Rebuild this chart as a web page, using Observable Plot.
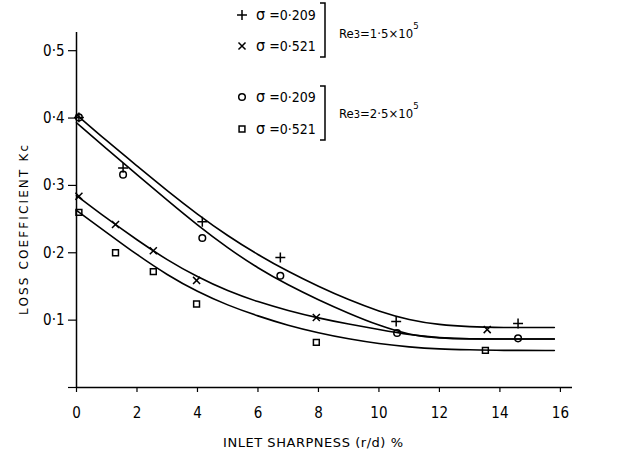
<!DOCTYPE html>
<html>
<head>
<meta charset="utf-8">
<script src="https://cdn.jsdelivr.net/npm/d3@7"></script>
<script src="https://cdn.jsdelivr.net/npm/@observablehq/plot@0.6"></script>
<style>
  html, body { margin: 0; padding: 0; background: #fff; }
  #chart svg { display: block; }
</style>
</head>
<body>
<div id="chart"></div>
<script>
// ---- Data ----
const xTicks = [0, 2, 4, 6, 8, 10, 12, 14, 16];
const yTicks = [0, 0.1, 0.2, 0.3, 0.4, 0.5];
const yTickLabels = ["", "0·1", "0·2", "0·3", "0·4", "0·5"];

const xLabel = "INLET SHARPNESS (r/d) %";
const yLabel = "LOSS COEFFICIENT Kc";

// Measured points
const plusX  = [0.08, 1.54, 4.16, 6.74, 10.57, 14.6];
const plusY  = [0.401, 0.326, 0.246, 0.193, 0.098, 0.095];
const timesX = [0.08, 1.29, 2.54, 3.97, 7.93, 13.58];
const timesY = [0.284, 0.242, 0.203, 0.159, 0.104, 0.086];
const circX  = [0.08, 1.54, 4.16, 6.74, 10.6, 14.6];
const circY  = [0.401, 0.316, 0.222, 0.166, 0.081, 0.073];
const sqX    = [0.08, 1.29, 2.54, 3.97, 7.93, 13.52];
const sqY    = [0.26, 0.20, 0.172, 0.124, 0.067, 0.055];

// Fitted curves
const curveX = [0, 1, 2, 3, 4, 5, 6, 7, 8, 9, 10, 11, 12, 13, 14, 15.8];
const curvePlusY  = [0.405, 0.366, 0.329, 0.292, 0.257, 0.225, 0.197, 0.172, 0.150, 0.130, 0.113, 0.100, 0.093, 0.090, 0.089, 0.089];
const curveCircY  = [0.393, 0.354, 0.316, 0.278, 0.241, 0.207, 0.177, 0.152, 0.130, 0.110, 0.092, 0.078, 0.073, 0.072, 0.072, 0.072];
const curveTimesY = [0.285, 0.251, 0.219, 0.189, 0.164, 0.143, 0.127, 0.114, 0.103, 0.094, 0.086, 0.078, 0.074, 0.072, 0.072, 0.072];
const curveSqY    = [0.263, 0.230, 0.197, 0.167, 0.142, 0.122, 0.106, 0.092, 0.081, 0.072, 0.065, 0.060, 0.057, 0.056, 0.055, 0.055];

// Legend text
const sigmaValues = ["=0·209", "=0·521", "=0·209", "=0·521"];
const legendSymbols = ["plus", "times", "circle", "square"];
const reValues = ["1·5", "2·5"];

// ---- Build tables ----
const points = [
  ...plusX.map((x, i) => ({x, y: plusY[i], s: "plus"})),
  ...timesX.map((x, i) => ({x, y: timesY[i], s: "times"})),
  ...circX.map((x, i) => ({x, y: circY[i], s: "circle"})),
  ...sqX.map((x, i) => ({x, y: sqY[i], s: "square"}))
];
const curves = [
  ...curveX.map((x, i) => ({x, y: curvePlusY[i], c: "plus"})),
  ...curveX.map((x, i) => ({x, y: curveCircY[i], c: "circle"})),
  ...curveX.map((x, i) => ({x, y: curveTimesY[i], c: "times"})),
  ...curveX.map((x, i) => ({x, y: curveSqY[i], c: "square"}))
];

const FONT = '"DejaVu Sans Condensed", "DejaVu Sans", sans-serif';
const TITLEFONT = '"DejaVu Sans", sans-serif';

const chart = Plot.plot({
  width: 630,
  height: 451,
  marginLeft: 76,
  marginRight: 58,
  marginTop: 32,
  marginBottom: 64,
  style: {fontFamily: FONT, fontSize: "15px", color: "#000", background: "#fff"},
  x: {domain: [0, 16.4]},
  y: {domain: [0, 0.527]},
  symbol: {domain: legendSymbols, range: ["plus", "times", "circle", "square"]},
  marks: [
    Plot.ruleY([0], {stroke: "#000", strokeWidth: 1.5}),
    Plot.ruleX([0], {stroke: "#000", strokeWidth: 1.5}),
    Plot.axisX({ticks: xTicks, tickSize: 5, tickPadding: 15, tickFormat: d => String(d),
      label: null, stroke: "#000", strokeWidth: 1.2, fontSize: 15}),
    Plot.axisY({ticks: yTicks, tickSize: 8, tickPadding: 4, tickFormat: (d, i) => yTickLabels[i],
      label: null, stroke: "#000", strokeWidth: 1.2, fontSize: 15}),
    Plot.line(curves, {x: "x", y: "y", z: "c", curve: "basis", stroke: "#000", strokeWidth: 1.6}),
    Plot.dot(points, {x: "x", y: "y", symbol: "s", r: 3.3, stroke: "#000", strokeWidth: 1.5, fill: "none"})
  ]
});

document.getElementById("chart").appendChild(chart);

const svg = d3.select(chart);

// ---- Axis titles ----
svg.append("text")
  .attr("x", 313).attr("y", 447)
  .attr("text-anchor", "middle").attr("font-family", TITLEFONT).attr("font-size", 13)
  .attr("textLength", 180).attr("lengthAdjust", "spacing")
  .attr("fill", "#000").text(xLabel);
svg.append("text")
  .attr("transform", "translate(28,230) rotate(-90)")
  .attr("text-anchor", "middle").attr("font-family", TITLEFONT).attr("font-size", 12)
  .attr("textLength", 170).attr("lengthAdjust", "spacing")
  .attr("fill", "#000").text(yLabel);

// ---- Legend (inside plot area, top) ----
const lg = svg.append("g").attr("font-family", FONT).attr("fill", "#000").attr("text-anchor", "start");
const rowY = [15, 46, 97, 129];
const d3sym = {plus: d3.symbolPlus, times: d3.symbolTimes, circle: d3.symbolCircle, square: d3.symbolSquare};
legendSymbols.forEach((s, i) => {
  lg.append("path")
    .attr("d", d3.symbol(d3sym[s], Math.PI * 3.3 * 3.3)())
    .attr("transform", `translate(242,${rowY[i]})`)
    .attr("fill", "none").attr("stroke", "#000").attr("stroke-width", 1.5);
  const t = lg.append("text").attr("x", 256).attr("y", rowY[i] + 5).attr("font-size", 14)
    .attr("text-anchor", "start");
  t.append("tspan").attr("font-size", 16).text("σ");
  t.append("tspan").attr("dx", 4).text(sigmaValues[i]);
});
// Brackets
[[3, 57], [86, 140]].forEach(([y0, y1]) => {
  lg.append("path")
    .attr("d", `M320,${y0} H325 V${y1} H320`)
    .attr("fill", "none").attr("stroke", "#000").attr("stroke-width", 1.5);
});
// Re labels
[38, 118].forEach((by, i) => {
  const t = lg.append("text").attr("x", 339).attr("y", by).attr("font-size", 13)
    .attr("text-anchor", "start");
  t.append("tspan").text("Re");
  t.append("tspan").attr("font-size", 11).text("3");
  t.append("tspan").text("=" + reValues[i] + "×10");
  t.append("tspan").attr("font-size", 9.5).attr("dy", -9).text("5");
});
</script>
</body>
</html>
